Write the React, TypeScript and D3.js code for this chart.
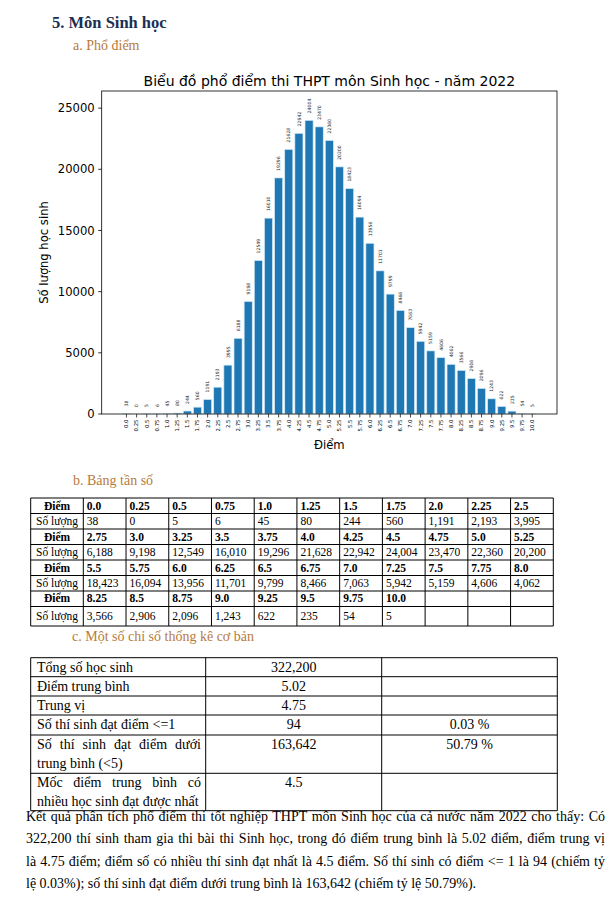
import { useEffect, useRef } from 'react';
import * as d3 from 'd3';

// score buckets (x tick labels) and how many students got each
const scoreLabels = ['0.0', '0.25', '0.5', '0.75', '1.0', '1.25', '1.5', '1.75', '2.0', '2.25', '2.5',
  '2.75', '3.0', '3.25', '3.5', '3.75', '4.0', '4.25', '4.5', '4.75', '5.0', '5.25',
  '5.5', '5.75', '6.0', '6.25', '6.5', '6.75', '7.0', '7.25', '7.5', '7.75', '8.0',
  '8.25', '8.5', '8.75', '9.0', '9.25', '9.5', '9.75', '10.0'];
const studentCounts = [38, 0, 5, 6, 45, 80, 244, 560, 1191, 2193, 3995,
  6188, 9198, 12549, 16010, 19296, 21628, 22942, 24004, 23470, 22360, 20200,
  18423, 16094, 13956, 11701, 9799, 8466, 7063, 5942, 5159, 4606, 4062,
  3566, 2906, 2096, 1243, 622, 235, 54, 5];
const yTicks = [0, 5000, 10000, 15000, 20000, 25000];

const statLabels = [
  ['Tổng số học sinh'],
  ['Điểm trung bình'],
  ['Trung vị'],
  ['Số thí sinh đạt điểm <=1'],
  ['Số thí sinh đạt điểm dưới', 'trung bình (<5)'],
  ['Mốc điểm trung bình có', 'nhiều học sinh đạt được nhất'],
];
const statValues = ['322,200', '5.02', '4.75', '94', '163,642', '4.5'];
const statPercents = ['', '', '', '0.03 %', '50.79 %', ''];

const summaryLines = [
  'Kết quả phân tích phổ điểm thi tốt nghiệp THPT môn Sinh học của cả nước năm 2022 cho thấy: Có',
  '322,200 thí sinh tham gia thi bài thi Sinh học, trong đó điểm trung bình là 5.02 điểm, điểm trung vị',
  'là 4.75 điểm; điểm số có nhiều thí sinh đạt nhất là 4.5 điểm. Số thí sinh có điểm <= 1 là 94 (chiếm tỷ',
  'lệ 0.03%); số thí sinh đạt điểm dưới trung bình là 163,642 (chiếm tỷ lệ 50.79%).',
];

const serif = '"Liberation Serif", "Times New Roman", serif';
const sans = '"DejaVu Sans", sans-serif';

const App = () => {
  const svgRef = useRef<SVGSVGElement | null>(null);

  // justify lines: spread the extra room over the word gaps
  useEffect(() => {
    if (!svgRef.current) return;
    d3.select(svgRef.current).selectAll<SVGTextElement, unknown>('text[data-justify]').each(function () {
      const target = +(this.getAttribute('data-justify') || 0);
      this.style.wordSpacing = '0px';
      const natural = this.getComputedTextLength();
      const gaps = (this.textContent || '').split(' ').length - 1;
      if (gaps > 0) this.style.wordSpacing = `${(target - natural) / gaps}px`;
    });
  }, []);

  // chart
  const plot = { left: 101.7, right: 557, top: 91, bottom: 414 };
  const x = d3.scaleLinear().domain([-2.44, scoreLabels.length - 1 + 2.44]).range([plot.left, plot.right]);
  const y = d3.scaleLinear().domain([0, 26400]).range([plot.bottom, plot.top]);
  const barW = (x(1) - x(0)) * 0.8;

  // frequency table: 11 scores per row pair
  const perRow = 11;
  const groups = d3.range(0, scoreLabels.length, perRow).map(s => d3.range(s, s + perRow));
  const fx = d3.scaleLinear().domain([0, perRow]).range([83.3, 553.3]);
  const tLeft = 30.7;
  const rowTops = [498, 513.5, 529, 544.5, 560, 575.5, 591, 606.5, 626];
  const fmt = d3.format(',');

  // stats table
  const sCols = [30.7, 205.7, 381.7, 557.3];
  const sRows = [657.7, 676.7, 696, 715, 735, 773.3, 810.7];

  return (
    <svg ref={svgRef} width={606} height={904} style={{ position: 'absolute', left: 0, top: 0, background: '#fff' }}>
      <text x={52} y={28} fontFamily={serif} fontWeight="bold" fontSize={16.5} fill="#1b2f52">5. Môn Sinh học</text>
      <text x={73} y={50} fontFamily={serif} fontSize={14} fill="#b87a3c">a. Phổ điểm</text>

      <g fontFamily={sans}>
        <text x={(plot.left + plot.right) / 2} y={86} textAnchor="middle" fontSize={14}>
          Biểu đồ phổ điểm thi THPT môn Sinh học - năm 2022
        </text>
        {studentCounts.map((v, i) => (
          <g key={i}>
            <rect x={x(i) - barW / 2} y={y(v)} width={barW} height={y(0) - y(v)}
              fill="#1f77b4" stroke="#d4ecf8" strokeWidth={0.7} />
            <text transform={`translate(${x(i)},${y(v) - 7}) rotate(-90)`} fontSize={4.6} dy="0.35em" fill="#222">{v}</text>
            <line x1={x(i)} x2={x(i)} y1={plot.bottom} y2={plot.bottom + 3.5} stroke="#000" strokeWidth={0.7} />
            <text transform={`translate(${x(i)},${plot.bottom + 5.5}) rotate(-90)`} fontSize={5.4} textAnchor="end" dy="0.35em">
              {scoreLabels[i]}
            </text>
          </g>
        ))}
        <rect x={plot.left} y={plot.top} width={plot.right - plot.left} height={plot.bottom - plot.top}
          fill="none" stroke="#000" strokeWidth={0.8} />
        {yTicks.map(t => (
          <g key={t}>
            <line x1={plot.left - 3.5} x2={plot.left} y1={y(t)} y2={y(t)} stroke="#000" strokeWidth={0.8} />
            <text x={plot.left - 7} y={y(t)} dy="0.35em" textAnchor="end" fontSize={11.6}>{t}</text>
          </g>
        ))}
        <text transform={`translate(48,${(plot.top + plot.bottom) / 2}) rotate(-90)`} textAnchor="middle" fontSize={11.6}>
          Số lượng học sinh
        </text>
        <text x={(plot.left + plot.right) / 2} y={449} textAnchor="middle" fontSize={11.6}>Điểm</text>
      </g>

      <text x={73} y={485} fontFamily={serif} fontSize={14} fill="#b87a3c">b. Bảng tần số</text>
      <g fontFamily={serif} fontSize={11.5}>
        {groups.map((g, gi) => {
          const top1 = rowTops[gi * 2];
          const top2 = rowTops[gi * 2 + 1];
          const bot = rowTops[gi * 2 + 2];
          const last = gi === groups.length - 1;
          const b1 = last ? top1 + 10.5 : top1 + 11.5;
          const b2 = last ? (top2 + bot) / 2 + 4 : top2 + 11.5;
          return (
            <g key={gi}>
              <text x={(tLeft + fx(0)) / 2} y={b1} textAnchor="middle" fontWeight="bold">Điểm</text>
              <text x={(tLeft + fx(0)) / 2} y={b2} textAnchor="middle">Số lượng</text>
              {g.map((idx, ci) => idx < scoreLabels.length ? (
                <g key={ci}>
                  <text x={fx(ci) + 3.5} y={b1} fontWeight="bold">{scoreLabels[idx]}</text>
                  <text x={fx(ci) + 3.5} y={b2}>{fmt(studentCounts[idx])}</text>
                </g>
              ) : null)}
            </g>
          );
        })}
        {rowTops.map((t, i) => (
          <line key={'h' + i} x1={tLeft} x2={fx(perRow)} y1={t} y2={t} stroke="#000" strokeWidth={1} />
        ))}
        {[tLeft, ...d3.range(perRow + 1).map(c => fx(c))].map((cx, i) => (
          <line key={'v' + i} x1={cx} x2={cx} y1={rowTops[0]} y2={rowTops[rowTops.length - 1]} stroke="#000" strokeWidth={1} />
        ))}
      </g>

      <text x={72} y={641} fontFamily={serif} fontSize={14} fill="#b87a3c">c. Một số chỉ số thống kê cơ bản</text>
      <g fontFamily={serif} fontSize={14}>
        {statLabels.map((lines, i) => {
          const top = sRows[i];
          return (
            <g key={i}>
              {lines.map((ln, li) => (
                <text key={li} x={37} y={top + 14 + li * 18.5}
                  data-justify={li < lines.length - 1 ? 164 : undefined}>{ln}</text>
              ))}
              <text x={(sCols[1] + sCols[2]) / 2} y={top + 14} textAnchor="middle">{statValues[i]}</text>
              {statPercents[i] && (
                <text x={(sCols[2] + sCols[3]) / 2} y={top + 14} textAnchor="middle">{statPercents[i]}</text>
              )}
            </g>
          );
        })}
        {sRows.map((t, i) => (
          <line key={'sh' + i} x1={sCols[0]} x2={sCols[3]} y1={t} y2={t} stroke="#000" strokeWidth={1} />
        ))}
        {sCols.map((c, i) => (
          <line key={'sv' + i} x1={c} x2={c} y1={sRows[0]} y2={sRows[sRows.length - 1]} stroke="#000" strokeWidth={1} />
        ))}
      </g>

      <g fontFamily={serif} fontSize={14}>
        {summaryLines.map((ln, i) => (
          <text key={i} x={26} y={821 + i * 22.4}
            data-justify={i < summaryLines.length - 1 ? 579 : undefined}>{ln}</text>
        ))}
      </g>
    </svg>
  );
};

export default App;
